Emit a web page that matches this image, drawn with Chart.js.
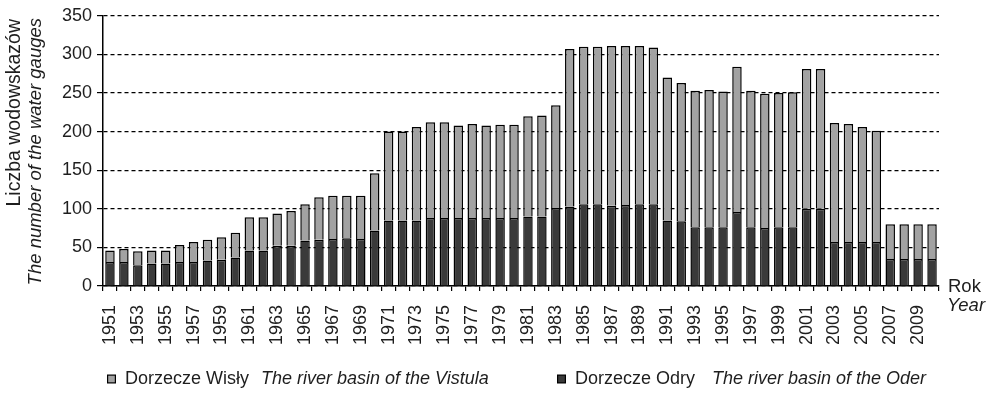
<!DOCTYPE html>
<html>
<head>
<meta charset="utf-8">
<script src="https://cdn.jsdelivr.net/npm/chart.js@4"></script>
<style>
  html, body { margin: 0; padding: 0; background: #fff; }
  #wrap { width: 992px; height: 393px; }
</style>
</head>
<body>
<div id="wrap"><canvas id="wykres" width="992" height="393"></canvas></div>
<script>
// lata 1951-2010
var lata = [];
for (var r = 1951; r <= 2010; r++) lata.push(String(r));

// liczba wodowskazow - dorzecze Odry (dolna czesc slupka)
var odra = [
  31, 31, 27, 29, 29, 31, 31, 33, 34, 37,
  46, 46, 52, 52, 59, 60, 61, 62, 61, 72,
  85, 85, 85, 88, 88, 88, 88, 88, 88, 88,
  90, 90, 101, 103, 106, 106, 104, 105, 106, 106,
  85, 84, 76, 76, 76, 96, 76, 75, 76, 76,
  100, 100, 57, 57, 57, 57, 35, 35, 35, 35
];

// liczba wodowskazow - dorzecze Wisly (gorna czesc slupka)
var wisla = [
  15, 17, 18, 17, 17, 22, 26, 27, 29, 32,
  43, 43, 42, 45, 47, 55, 56, 55, 56, 74,
  115, 115, 121, 124, 124, 120, 122, 120, 121, 121,
  130, 131, 133, 204, 204, 204, 207, 206, 205, 203,
  185, 179, 177, 178, 176, 188, 177, 174, 174, 175,
  181, 181, 154, 153, 149, 144, 45, 45, 45, 45
];

var yTicks = [0, 50, 100, 150, 200, 250, 300, 350];

var FONT = '"Liberation Sans", Arial, sans-serif';
var TXT = '#1e1e1e';
var JASNY = '#a2a2a2';
var CIEMNY = '#3a3a3a';

// podpisy osi i legenda rysowane recznie (mieszane kroje)
var opisy = {
  id: 'opisy',
  afterDraw: function (chart) {
    var c = chart.ctx;
    c.save();
    c.fillStyle = TXT;
    c.textBaseline = 'middle';

    // tytul osi Y - obie linie wyrownane do gory
    c.save();
    c.translate(15, 19);
    c.rotate(-Math.PI / 2);
    c.textAlign = 'right';
    c.font = '19.5px ' + FONT;
    c.fillText('Liczba wodowskazów', 0, 0);
    c.restore();
    c.save();
    c.translate(36, 18);
    c.rotate(-Math.PI / 2);
    c.textAlign = 'right';
    c.font = 'italic 18.5px ' + FONT;
    c.fillText('The number of the water gauges', 0, 0);
    c.restore();

    // Rok / Year
    c.textAlign = 'left';
    c.font = '18.5px ' + FONT;
    c.fillText('Rok', 948, 287);
    c.font = 'italic 18.5px ' + FONT;
    c.fillText('Year', 947, 306);

    // legenda
    var ly = 379;
    function pozycja(x, kolor, pl, en, xEn) {
      c.fillStyle = '#000';
      c.fillRect(x, ly - 4.5, 9, 9);
      c.fillStyle = kolor;
      c.fillRect(x + 1.2, ly - 3.3, 6.6, 6.6);
      c.fillStyle = TXT;
      c.font = '18px ' + FONT;
      c.fillText(pl, x + 18, ly);
      c.font = 'italic 18px ' + FONT;
      c.fillText(en, xEn, ly);
    }
    pozycja(107, JASNY, 'Dorzecze Wisły', 'The river basin of the Vistula', 261);
    pozycja(557, CIEMNY, 'Dorzecze Odry', 'The river basin of the Oder', 712);
    c.restore();
  }
};

new Chart(document.getElementById('wykres'), {
  type: 'bar',
  data: {
    labels: lata,
    datasets: [
      {
        label: 'Dorzecze Odry',
        data: odra,
        backgroundColor: CIEMNY,
        borderColor: '#000',
        borderWidth: 1.5,
        barPercentage: 0.68,
        categoryPercentage: 1
      },
      {
        label: 'Dorzecze Wisły',
        data: wisla,
        backgroundColor: JASNY,
        borderColor: '#000',
        borderWidth: 1.5,
        barPercentage: 0.68,
        categoryPercentage: 1
      }
    ]
  },
  options: {
    responsive: false,
    animation: false,
    layout: { padding: { top: 14, right: 53, left: 0, bottom: 0 } },
    plugins: {
      legend: { display: false },
      tooltip: { enabled: false }
    },
    scales: {
      x: {
        stacked: true,
        afterFit: function (s) { s.height = 107; },
        border: { display: true, color: '#000', width: 1.5 },
        grid: { drawOnChartArea: false, drawTicks: true, tickLength: 5, color: '#000', lineWidth: 1.2 },
        ticks: {
          autoSkip: false,
          maxRotation: 90,
          minRotation: 90,
          padding: 14,
          color: TXT,
          font: { family: FONT, size: 18 },
          callback: function (v, i) { return i % 2 === 0 ? lata[i] : ''; }
        }
      },
      y: {
        stacked: true,
        min: 0,
        max: 350,
        afterFit: function (s) { s.width = 103; },
        afterBuildTicks: function (s) { s.ticks = yTicks.map(function (v) { return { value: v }; }); },
        border: { display: true, color: '#000', width: 1.5, dash: [4, 3] },
        grid: { color: '#000', lineWidth: 1.2, tickLength: 6, tickBorderDash: [] },
        ticks: {
          padding: 5,
          color: TXT,
          font: { family: FONT, size: 18 }
        }
      }
    }
  },
  plugins: [opisy]
});
</script>
</body>
</html>
